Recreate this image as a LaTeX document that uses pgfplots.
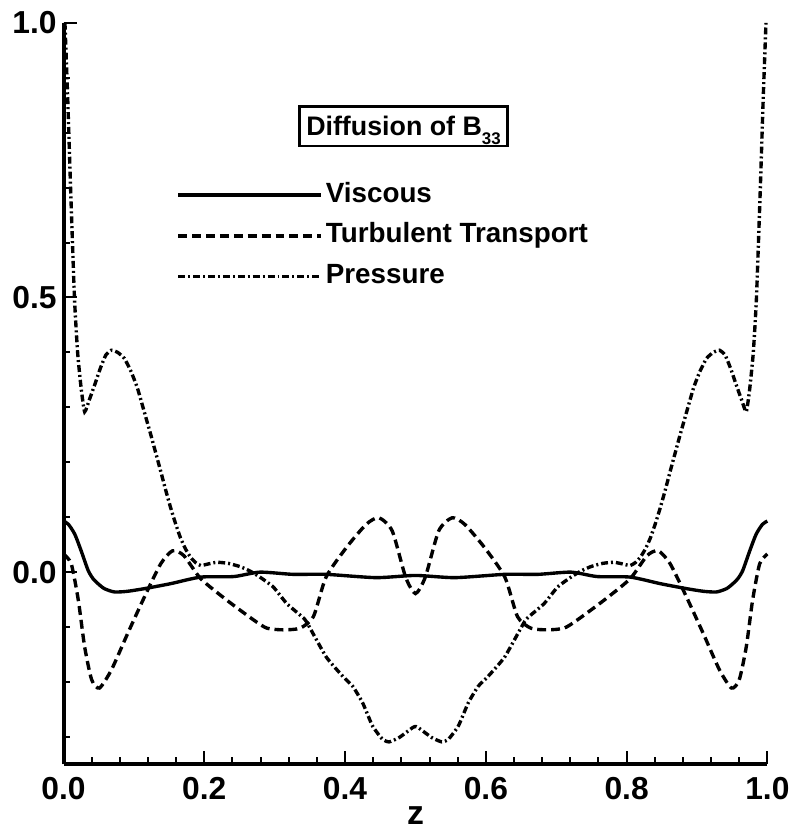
\documentclass[border=0pt]{standalone}
\usepackage{fontspec}
\setmainfont{Liberation Sans}
\usepackage{pgfplots}
\pgfplotsset{compat=1.18}
\begin{document}
\begin{tikzpicture}
\begin{axis}[
  scale only axis,
  width=354.5pt, height=373.5pt,
  xmin=0, xmax=1, ymin=-0.35, ymax=1.0,
  axis lines=left,
  axis line style={-, line width=2pt},
  clip=false,
  tick align=inside,
  tick style={black, line width=1pt},
  major tick length=7pt,
  minor tick length=3.5pt,
  xtick={0,0.2,0.4,0.6,0.8,1.0},
  minor x tick num=4,
  ytick={0,0.5,1.0},
  minor ytick={-0.3,-0.2,-0.1,0.1,0.2,0.3,0.4,0.6,0.7,0.8,0.9},
  /pgf/number format/assume math mode=true,
  /pgf/number format/.cd, fixed, fixed zerofill, precision=1, /pgfplots/.cd,
  ticklabel style={font=\fontsize{16}{16}\selectfont\bfseries},
  xticklabel style={yshift=-3pt},
  xlabel={z},
  xlabel style={font=\fontsize{17}{17}\selectfont\bfseries, yshift=3.5pt},
  legend cell align=left,
  legend image code/.code={\draw[#1] (0pt,0pt) -- (72pt,0pt);},
  legend style={draw=none, fill=none, at={(axis cs:0.16,0.716)}, anchor=north west,
    font=\fontsize{14}{14}\selectfont\bfseries, row sep=4.5pt, inner sep=0pt,
    nodes={inner sep=1.5pt, text height=10pt, text depth=3pt}},
]
\addplot[black, line width=1.7pt, smooth, tension=0.4] table {
0.000 0.093
0.007 0.087
0.016 0.069
0.025 0.039
0.035 0.003
0.042 -0.012
0.049 -0.021
0.058 -0.030
0.072 -0.036
0.090 -0.035
0.115 -0.030
0.152 -0.021
0.195 -0.009
0.242 -0.008
0.279 0.000
0.326 -0.004
0.373 -0.004
0.444 -0.010
0.500 -0.006
0.556 -0.010
0.627 -0.004
0.674 -0.004
0.721 0.000
0.758 -0.008
0.805 -0.009
0.848 -0.021
0.885 -0.030
0.910 -0.035
0.928 -0.036
0.942 -0.030
0.951 -0.021
0.958 -0.012
0.965 0.003
0.975 0.039
0.984 0.069
0.993 0.087
1.000 0.093
};
\addlegendentry{Viscous}
\addplot[black, line width=1.7pt, dash pattern=on 4.5pt off 2.5pt, smooth, tension=0.4] table {
0.000 0.033
0.011 0.015
0.021 -0.051
0.030 -0.136
0.040 -0.196
0.051 -0.211
0.068 -0.178
0.091 -0.112
0.115 -0.045
0.138 0.015
0.155 0.039
0.171 0.030
0.195 -0.012
0.232 -0.051
0.270 -0.087
0.289 -0.102
0.312 -0.105
0.336 -0.102
0.355 -0.081
0.373 -0.009
0.402 0.045
0.430 0.087
0.448 0.099
0.467 0.075
0.486 -0.009
0.500 -0.039
0.514 -0.009
0.533 0.075
0.552 0.099
0.570 0.087
0.598 0.045
0.627 -0.009
0.645 -0.081
0.664 -0.102
0.688 -0.105
0.711 -0.102
0.730 -0.087
0.768 -0.051
0.805 -0.012
0.829 0.030
0.845 0.039
0.862 0.015
0.885 -0.045
0.909 -0.112
0.932 -0.178
0.949 -0.211
0.960 -0.196
0.970 -0.136
0.979 -0.051
0.989 0.015
1.000 0.033
};
\addlegendentry{Turbulent Transport}
\addplot[black, line width=1.7pt, dash pattern=on 3.5pt off 1.5pt on 1pt off 1.5pt, smooth, tension=0.3] table {
0.002 1.000
0.006 0.860
0.010 0.700
0.0155 0.500
0.020 0.400
0.025 0.335
0.030 0.292
0.037 0.315
0.044 0.340
0.052 0.370
0.060 0.395
0.068 0.404
0.077 0.400
0.0865 0.389
0.096 0.365
0.105 0.335
0.114 0.295
0.124 0.250
0.131 0.217
0.138 0.184
0.145 0.150
0.152 0.118
0.159 0.089
0.166 0.063
0.173 0.043
0.1805 0.027
0.188 0.017
0.195 0.012
0.206 0.015
0.218 0.018
0.234 0.016
0.251 0.010
0.265 0.002
0.279 -0.009
0.298 -0.027
0.317 -0.057
0.336 -0.078
0.345 -0.090
0.373 -0.154
0.397 -0.190
0.411 -0.208
0.425 -0.238
0.439 -0.280
0.453 -0.304
0.4626 -0.309
0.477 -0.301
0.496 -0.283
0.500 -0.281
0.504 -0.283
0.523 -0.301
0.5374 -0.309
0.547 -0.304
0.561 -0.280
0.575 -0.238
0.589 -0.208
0.603 -0.190
0.627 -0.154
0.655 -0.090
0.664 -0.078
0.683 -0.057
0.702 -0.027
0.721 -0.009
0.735 0.002
0.749 0.010
0.766 0.016
0.782 0.018
0.794 0.015
0.805 0.012
0.812 0.017
0.8195 0.027
0.827 0.043
0.834 0.063
0.841 0.089
0.848 0.118
0.855 0.150
0.862 0.184
0.869 0.217
0.876 0.250
0.886 0.295
0.895 0.335
0.904 0.365
0.9135 0.389
0.923 0.400
0.932 0.404
0.940 0.395
0.948 0.370
0.956 0.340
0.963 0.315
0.970 0.292
0.975 0.335
0.980 0.400
0.9845 0.500
0.990 0.700
0.994 0.860
0.998 1.000
};
\addlegendentry{Pressure}
\node[draw, line width=1.3pt, inner xsep=3.3pt, inner ysep=0pt, text height=14.5pt, text depth=5.5pt,
  font=\fontsize{13.5}{13.5}\selectfont\bfseries] at (axis cs:0.483,0.812)
  {Diffusion of B\raisebox{-5pt}{\fontsize{8.5}{8.5}\selectfont 33}};
\end{axis}
\path (-32pt,-30.5pt) rectangle (364.5pt,385pt);
\end{tikzpicture}
\end{document}
